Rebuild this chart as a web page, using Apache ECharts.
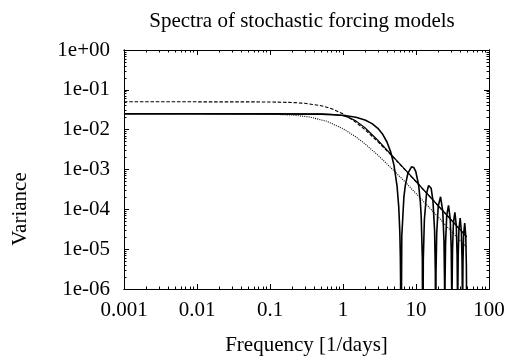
<!DOCTYPE html>
<html>
<head>
<meta charset="utf-8">
<title>Spectra of stochastic forcing models</title>
<script src="https://cdn.jsdelivr.net/npm/echarts@6/dist/echarts.min.js"></script>
<style>
  html, body { margin: 0; padding: 0; background: #fff; }
  #main { width: 505px; height: 356px; }
</style>
</head>
<body>
<div id="main"></div>
<script>
// values: frequency [1/days] and variance

// dashed curve
var freqDash = [0.001, 0.01, 0.05, 0.1, 0.2, 0.3, 0.5, 0.7, 1, 1.5, 2, 3, 5, 7, 10, 15, 20, 30, 49.6];
var varDash = [0.05, 0.05, 0.04988, 0.0495, 0.04808, 0.04587, 0.04, 0.03356, 0.025, 0.01538, 0.01, 0.005,
               0.001923, 0.001, 0.000495, 0.0002212, 0.0001247, 5.549e-5, 2.03e-5];

// thin solid curve: flat, then runs along the dashed one at high frequency
var freqLine = [0.001, 0.01, 0.1, 0.3, 0.5, 0.7, 1, 1.2, 1.5, 2, 3, 5, 7, 10, 15, 20, 30, 49.6];
var varLine = [0.025, 0.025, 0.025, 0.02497, 0.02481, 0.02428, 0.02236, 0.02029, 0.01661, 0.01118,
               0.005423, 0.001994, 0.00102, 0.0005, 0.0002222, 0.000125, 5.556e-5, 2.032e-5];

// dotted curve
var freqDot = [0.001, 0.01, 0.05, 0.1, 0.2, 0.35, 0.6, 1, 1.5, 2, 3, 5, 7, 10, 20, 30, 49.6];
var varDot = [0.025, 0.025, 0.0249, 0.0245, 0.0233, 0.0208, 0.0162, 0.0106, 0.0066, 0.0044, 0.0023,
              0.00093, 0.0005, 0.00025, 6.5e-5, 2.9e-5, 1.1e-5];

// solid curve with the notches (the notch bottoms fall far below the axis)
var freqBox = [0.001, 0.01, 0.1, 0.5, 1, 1.5, 2, 2.5, 3, 3.5, 4, 4.5, 5, 5.5, 5.8, 6.0, 6.1, 6.15, 6.2,
  6.386, 6.82, 7.13, 7.75, 8.68, 9.3, 9.92, 10.85, 11.47, 11.78, 12.214, 12.4,
  12.586, 13.02, 13.95, 14.88, 15.5, 16.12, 17.05, 17.98, 18.414, 18.6,
  18.786, 19.22, 20.15, 21.7, 23.25, 24.18, 24.614, 24.8,
  24.986, 25.42, 26.35, 27.9, 29.45, 30.38, 30.814, 31.0,
  31.186, 31.62, 32.55, 34.1, 35.65, 36.58, 37.014, 37.2,
  37.386, 37.82, 38.75, 40.3, 41.85, 42.78, 43.214, 43.4,
  43.586, 44.02, 44.95, 46.5, 48.05, 48.98, 49.414, 49.6];
var varBox = [0.025, 0.025, 0.02498, 0.02447, 0.02293, 0.02054, 0.01754, 0.01418, 0.01079, 0.007626,
  0.004902, 0.002769, 0.001271, 0.000384, 0.0001173, 2.77e-5, 6.7e-6, 1.66e-6, 1e-9,
  2.115e-5, 2.0e-4, 3.948e-4, 8.106e-4, 1.169e-3, 1.126e-3, 8.95e-4, 4.136e-4, 1.526e-4, 6.70e-5, 5.78e-6, 1e-9,
  5.45e-6, 5.49e-5, 2.502e-4, 3.977e-4, 4.053e-4, 3.389e-4, 1.675e-4, 2.876e-5, 2.54e-6, 1e-9,
  2.44e-6, 2.517e-5, 1.199e-4, 2.068e-4, 9.006e-5, 1.590e-5, 1.424e-6, 1e-9,
  1.382e-6, 1.439e-5, 7.012e-5, 1.251e-4, 5.613e-5, 1.0075e-5, 9.08e-7, 1e-9,
  8.87e-7, 9.30e-6, 4.595e-5, 8.374e-5, 3.831e-5, 6.95e-6, 6.30e-7, 1e-9,
  6.17e-7, 6.50e-6, 3.242e-5, 5.995e-5, 2.780e-5, 5.08e-6, 4.62e-7, 1e-9,
  4.54e-7, 4.80e-6, 2.410e-5, 4.503e-5, 2.109e-5, 3.876e-6, 3.53e-7, 1e-9];

// axis ticks
var xTicks = [0.001, 0.01, 0.1, 1, 10, 100];
var xTickLabels = ['0.001', '0.01', '0.1', '1', '10', '100'];
var yTicks = [1e-6, 1e-5, 1e-4, 1e-3, 1e-2, 1e-1, 1];
var yTickLabels = ['1e-06', '1e-05', '1e-04', '1e-03', '1e-02', '1e-01', '1e+00'];

function minorTicks(major) {
  var out = [];
  for (var i = 0; i < major.length - 1; i++) {
    for (var m = 2; m <= 9; m++) out.push(major[i] * m);
  }
  return out;
}
function pairs(xs, ys) {
  return xs.map(function (x, i) { return [x, ys[i]]; });
}
function labelOf(ticks, labels) {
  return function (v) {
    var best = 0;
    for (var i = 1; i < ticks.length; i++) {
      if (Math.abs(Math.log10(ticks[i] / v)) < Math.abs(Math.log10(ticks[best] / v))) best = i;
    }
    return labels[best];
  };
}

var FONT = '"Liberation Serif", "Times New Roman", serif';
var black = '#000';

function axis(pos, lo, hi, ticks, len, opts) {
  var a = {
    type: 'log', logBase: 10, min: lo, max: hi, position: pos,
    axisLine: { show: true, lineStyle: { color: black, width: 1 } },
    axisTick: { show: true, inside: true, length: len, customValues: ticks, lineStyle: { color: black, width: 1 } },
    axisLabel: { show: false },
    splitLine: { show: false },
    minorTick: { show: false },
    z: 5
  };
  return Object.assign(a, opts || {});
}

var chart = echarts.init(document.getElementById('main'), null, { renderer: 'canvas' });

var option = {
  animation: false,
  backgroundColor: '#fff',
  textStyle: { fontFamily: FONT },
  grid: { left: 124, top: 50, width: 365, height: 239, outerBoundsMode: 'none' },
  graphic: [{
    type: 'text', x: 302, y: 21,
    style: {
      text: 'Spectra of stochastic forcing models',
      font: '21px ' + FONT, fill: black, align: 'center', verticalAlign: 'middle'
    }
  }, {
    type: 'text', x: 20, y: 209, rotation: Math.PI / 2,
    style: {
      text: 'Variance',
      font: '21px ' + FONT, fill: black, align: 'center', verticalAlign: 'middle'
    }
  }],
  xAxis: [
    axis('bottom', 0.001, 100, xTicks, 5, {
      axisLabel: {
        show: true, customValues: xTicks, margin: 11, color: black,
        fontFamily: FONT, fontSize: 21, formatter: labelOf(xTicks, xTickLabels)
      },
      name: 'Frequency [1/days]', nameLocation: 'middle', nameGap: 46,
      nameTextStyle: { color: black, fontFamily: FONT, fontSize: 21 }
    }),
    axis('top', 0.001, 100, xTicks, 5),
    axis('bottom', 0.001, 100, minorTicks(xTicks), 2.5),
    axis('top', 0.001, 100, minorTicks(xTicks), 2.5)
  ],
  yAxis: [
    axis('left', 1e-6, 1, yTicks, 5, {
      axisLabel: {
        show: true, customValues: yTicks, margin: 14, color: black,
        fontFamily: FONT, fontSize: 21, formatter: labelOf(yTicks, yTickLabels)
      }
    }),
    axis('right', 1e-6, 1, yTicks, 5),
    axis('left', 1e-6, 1, minorTicks(yTicks), 2.5),
    axis('right', 1e-6, 1, minorTicks(yTicks), 2.5)
  ],
  series: [
    {
      name: 'dotted', type: 'line', data: pairs(freqDot, varDot), showSymbol: false, clip: true,
      lineStyle: { color: black, width: 1.1, type: [1, 1.2] }
    },
    {
      name: 'dashed', type: 'line', data: pairs(freqDash, varDash), showSymbol: false, clip: true,
      lineStyle: { color: black, width: 1.1, type: [3.5, 1.8] }
    },
    {
      name: 'line', type: 'line', data: pairs(freqLine, varLine), showSymbol: false, clip: true,
      lineStyle: { color: black, width: 1.2 }
    },
    {
      name: 'box', type: 'line', data: pairs(freqBox, varBox), showSymbol: false, clip: true,
      lineStyle: { color: black, width: 1.6 }
    }
  ]
};
chart.setOption(option);
</script>
</body>
</html>
